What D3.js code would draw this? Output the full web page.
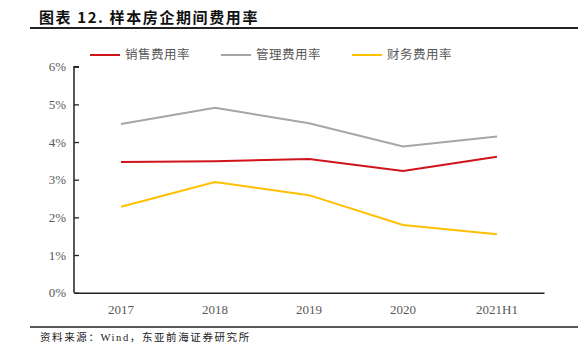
<!DOCTYPE html>
<html>
<head>
<meta charset="utf-8">
<script src="https://cdn.jsdelivr.net/npm/d3@7"></script>
<style>
  body { margin: 0; background: #fff; }
  svg { display: block; }
</style>
</head>
<body>
<div id="vis"></div>
<script>
var width = 587;
var height = 364;

var years = ["2017", "2018", "2019", "2020", "2021H1"];
var sales = [3.47, 3.49, 3.55, 3.23, 3.61];
var admin = [4.48, 4.91, 4.50, 3.88, 4.15];
var finance = [2.28, 2.94, 2.59, 1.80, 1.55];
var seriesNames = ["销售费用率", "管理费用率", "财务费用率"];
var seriesColors = ["#D0141C", "#A6A6A6", "#FFC000"];
var yTicks = [0, 1, 2, 3, 4, 5, 6];

var series = [sales, admin, finance].map((v, i) => ({name: seriesNames[i], color: seriesColors[i], values: v}));

var svg = d3.select("#vis").append("svg")
  .attr("width", width)
  .attr("height", height);

// title + rules
svg.append("text")
  .attr("x", 39).attr("y", 23)
  .style("font", "bold 15px 'Noto Sans CJK SC', sans-serif")
  .style("letter-spacing", "1.6px")
  .attr("fill", "#111")
  .text("图表 12. 样本房企期间费用率");

svg.append("line").attr("x1", 30).attr("x2", 578).attr("y1", 28).attr("y2", 28)
  .attr("stroke", "#222").attr("stroke-width", 2);
svg.append("line").attr("x1", 30).attr("x2", 578).attr("y1", 327).attr("y2", 327)
  .attr("stroke", "#222").attr("stroke-width", 1.5);

svg.append("text")
  .attr("x", 40).attr("y", 341)
  .style("font", "10.5px 'Liberation Serif', 'Noto Sans CJK SC', serif")
  .style("letter-spacing", "1.6px")
  .attr("fill", "#222")
  .text("资料来源：Wind，东亚前海证券研究所");

var x = d3.scaleBand().domain(years).range([74, 544]);
var y = d3.scaleLinear().domain([0, 6]).range([292.7, 66.7]);

// y axis
var yAxis = svg.append("g")
  .attr("transform", "translate(74,0)")
  .call(d3.axisRight(y).tickValues(yTicks).tickSize(5).tickFormat(d => d + "%"));
yAxis.select(".domain").attr("stroke", "#222").attr("stroke-width", 1.5).attr("d", "M5," + y(6) + "H0V" + y(0));
yAxis.selectAll(".tick line").attr("stroke", "#222").attr("stroke-width", 1.3);
yAxis.selectAll(".tick text")
  .attr("x", -8).attr("text-anchor", "end")
  .style("font", "13px 'Liberation Serif', serif")
  .attr("fill", "#595959");

// x axis
var xAxis = svg.append("g")
  .attr("transform", "translate(0," + y(0) + ")")
  .call(d3.axisBottom(x).tickSize(0).tickPadding(12));
xAxis.select(".domain").attr("stroke", "#222").attr("stroke-width", 1.5);
xAxis.selectAll(".tick text")
  .style("font", "13px 'Liberation Serif', serif")
  .attr("fill", "#595959");

var line = d3.line()
  .x((d, i) => x(years[i]) + x.bandwidth() / 2)
  .y(d => y(d));

svg.append("g").attr("fill", "none")
  .selectAll("path")
  .data(series)
  .join("path")
  .attr("d", d => line(d.values))
  .attr("stroke", d => d.color)
  .attr("stroke-width", 2);

// legend
var legendX = [90, 221, 352];
var legend = svg.append("g")
  .selectAll("g")
  .data(series)
  .join("g")
  .attr("transform", (d, i) => "translate(" + legendX[i] + ",55)");
legend.append("line")
  .attr("x1", 0).attr("x2", 30)
  .attr("stroke", d => d.color).attr("stroke-width", 2);
legend.append("text")
  .attr("x", 35).attr("dy", "0.35em")
  .style("font", "12.5px 'Noto Sans CJK SC', sans-serif")
  .style("letter-spacing", "0.5px")
  .attr("fill", "#595959")
  .text(d => d.name);
</script>
</body>
</html>
